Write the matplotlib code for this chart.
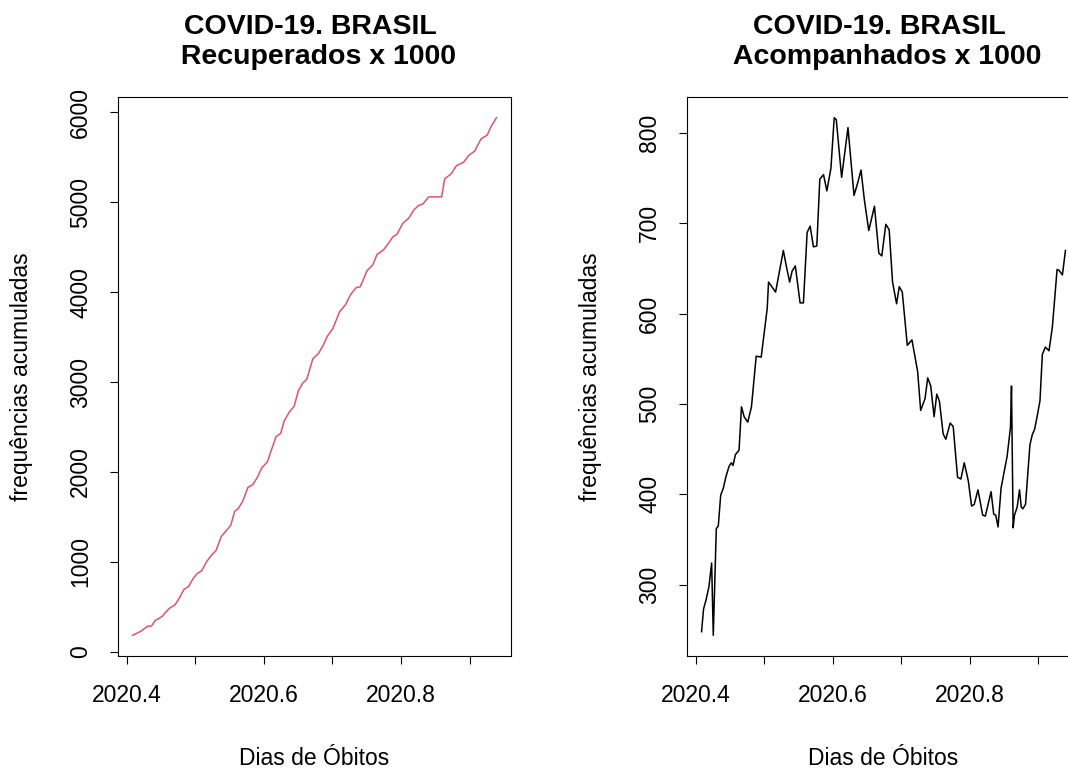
import numpy as np
from matplotlib import pyplot as plt

plt.rcParams["font.family"] = ["Liberation Sans", "DejaVu Sans"]
plt.rcParams["font.size"] = 16.5

# Recuperados (milhares), por data em fração de ano
rec_dates = [2020.4088, 2020.4146, 2020.4219, 2020.4302, 2020.4365, 2020.4418, 2020.4486,
             2020.4525, 2020.4559, 2020.4632, 2020.4705, 2020.4768, 2020.4837, 2020.4905,
             2020.4973, 2020.5031, 2020.5094, 2020.5167, 2020.5240, 2020.5304, 2020.5381,
             2020.5449, 2020.5518, 2020.5576, 2020.5625, 2020.5693, 2020.5770, 2020.5839,
             2020.5907, 2020.5970, 2020.6053, 2020.6116, 2020.6179, 2020.6247, 2020.6296,
             2020.6374, 2020.6442, 2020.6505, 2020.6568, 2020.6626, 2020.6714, 2020.6797,
             2020.6860, 2020.6928, 2020.7006, 2020.7103, 2020.7191, 2020.7268, 2020.7346,
             2020.7405, 2020.7502, 2020.7590, 2020.7648, 2020.7745, 2020.7818, 2020.7881,
             2020.7940, 2020.8027, 2020.8110, 2020.8183, 2020.8256, 2020.8319, 2020.8402,
             2020.8591, 2020.8635, 2020.8728, 2020.8805, 2020.8912, 2020.8985, 2020.9073,
             2020.9165, 2020.9253, 2020.9316, 2020.9389]
rec_values = [185, 206, 234, 284, 288, 350, 378, 399, 432, 489, 522, 596, 695, 728,
              818, 872, 901, 1003, 1077, 1127, 1283, 1345, 1406, 1563, 1591, 1674, 1830,
              1859, 1941, 2044, 2114, 2257, 2393, 2430, 2566, 2669, 2730, 2907, 2989,
              3030, 3257, 3318, 3401, 3512, 3594, 3779, 3861, 3976, 4050, 4058, 4235,
              4305, 4416, 4470, 4544, 4614, 4642, 4766, 4819, 4910, 4963, 4979, 5058,
              5058, 5259, 5313, 5403, 5444, 5518, 5567, 5703, 5744, 5847, 5938]

# Acompanhados (milhares)
acomp_dates = [2020.4088, 2020.4117, 2020.4156, 2020.4196, 2020.4235, 2020.4259, 2020.4303,
               2020.4332, 2020.4367, 2020.4406, 2020.4445, 2020.4489, 2020.4523, 2020.4547,
               2020.4582, 2020.4635, 2020.4670, 2020.4709, 2020.4762, 2020.4816, 2020.4885,
               2020.4958, 2020.5046, 2020.5065, 2020.5168, 2020.5281, 2020.5329, 2020.5373,
               2020.5408, 2020.5456, 2020.5525, 2020.5574, 2020.5628, 2020.5672, 2020.5720,
               2020.5769, 2020.5813, 2020.5867, 2020.5916, 2020.5975, 2020.6023, 2020.6053,
               2020.6131, 2020.6224, 2020.6312, 2020.6366, 2020.6414, 2020.6463, 2020.6527,
               2020.6610, 2020.6674, 2020.6717, 2020.6776, 2020.6825, 2020.6874, 2020.6933,
               2020.6972, 2020.7016, 2020.7089, 2020.7157, 2020.7240, 2020.7284, 2020.7348,
               2020.7387, 2020.7431, 2020.7480, 2020.7519, 2020.7558, 2020.7612, 2020.7651,
               2020.7715, 2020.7759, 2020.7822, 2020.7871, 2020.7920, 2020.7979, 2020.8027,
               2020.8066, 2020.8120, 2020.8189, 2020.8228, 2020.8311, 2020.8350, 2020.8379,
               2020.8413, 2020.8457, 2020.8545, 2020.8594, 2020.8609, 2020.8633, 2020.8653,
               2020.8692, 2020.8726, 2020.8751, 2020.8775, 2020.8814, 2020.8878, 2020.8912,
               2020.8946, 2020.8985, 2020.9025, 2020.9059, 2020.9103, 2020.9156, 2020.9205,
               2020.9274, 2020.9303, 2020.9352, 2020.9396]
acomp_values = [248, 273, 284, 298, 324, 244, 362, 365, 399, 407, 420, 431, 435, 432,
                444, 449, 497, 486, 480, 497, 553, 552, 606, 635, 624, 670, 651, 635,
                647, 653, 612, 612, 690, 697, 674, 675, 749, 754, 736, 761, 817, 815,
                751, 806, 731, 745, 759, 726, 692, 719, 667, 664, 699, 693, 635, 611,
                630, 624, 565, 571, 536, 493, 506, 529, 520, 486, 511, 503, 467, 461,
                479, 475, 419, 417, 435, 415, 387, 389, 405, 377, 376, 403, 378, 377,
                364, 407, 442, 474, 520, 363, 377, 386, 405, 386, 384, 389, 455, 466,
                472, 487, 504, 555, 563, 559, 585, 649, 648, 643, 670]

x_ticks = [2020.4, 2020.5, 2020.6, 2020.7, 2020.8, 2020.9]
x_tick_labels = ["2020.4", "", "2020.6", "", "2020.8", ""]
rec_y_ticks = [0, 1000, 2000, 3000, 4000, 5000, 6000]
acomp_y_ticks = [300, 400, 500, 600, 700, 800]

AX_W = 393 / 1068
AX_H = 559 / 769
AX_B = 1 - 656 / 769


def padded(values, frac=0.04):
    # R-style axis range: data range widened by 4% on each side
    lo, hi = min(values), max(values)
    d = (hi - lo) * frac
    return lo - d, hi + d


def panel(fig, left, dates, values, y_ticks, color, title):
    ax = fig.add_axes([left, AX_B, AX_W, AX_H])
    ax.plot(dates, values, color=color, lw=1.1)
    ax.set_xlim(*padded(dates))
    ax.set_ylim(*padded(values))

    ax.set_xticks(x_ticks)
    ax.set_xticklabels(x_tick_labels)
    ax.set_yticks(y_ticks)
    ax.set_yticklabels([str(v) for v in y_ticks], rotation=90, va="center")
    ax.tick_params(axis="both", direction="out", length=5.5, width=0.8, color="black")
    ax.tick_params(axis="x", pad=15)
    ax.tick_params(axis="y", pad=13)
    for spine in ax.spines.values():
        spine.set_linewidth(0.8)

    ax.set_xlabel("Dias de Óbitos")
    ax.xaxis.set_label_coords(0.5, -0.184)
    ax.xaxis.label.set_va("center")
    ax.set_ylabel("frequências acumuladas")
    ax.yaxis.set_label_coords(-96 / 393, 0.5)
    ax.yaxis.label.set_va("center")

    ax.text(0.5, 1 + 55 / 559, title, transform=ax.transAxes, ha="center", va="center",
            fontsize=20.5, fontweight="bold", linespacing=1.2)
    return ax


fig = plt.figure(figsize=(10.68, 7.69), dpi=100)
panel(fig, 118 / 1068, rec_dates, rec_values, rec_y_ticks, "#DF536B",
      "COVID-19. BRASIL \n Recuperados x 1000")
panel(fig, 687 / 1068, acomp_dates, acomp_values, acomp_y_ticks, "black",
      "COVID-19. BRASIL \n Acompanhados x 1000")

fig.savefig("out.png", dpi=100)
